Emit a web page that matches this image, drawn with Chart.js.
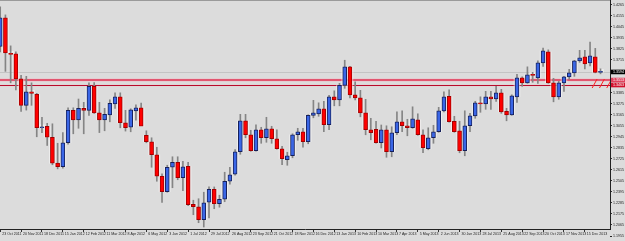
<!DOCTYPE html>
<html>
<head>
<meta charset="utf-8">
<title>EURUSD W1</title>
<script src="https://cdn.jsdelivr.net/npm/chart.js@4.4.0/dist/chart.umd.min.js"></script>
<style>
  html, body { margin: 0; padding: 0; background: #dcdcdc; }
  #box { width: 625px; height: 241px; }
</style>
</head>
<body>
<div id="box"><canvas id="weekChart" width="625" height="241"></canvas></div>
<script>
// weekly candles, first one is the week of 23 Oct 2011, one label every 4 weeks
const dateLabels = ['23 Oct 2011', '20 Nov 2011', '18 Dec 2011', '15 Jan 2012', '12 Feb 2012', '11 Mar 2012',
  '8 Apr 2012', '6 May 2012', '3 Jun 2012', '1 Jul 2012', '29 Jul 2012', '26 Aug 2012', '23 Sep 2012',
  '21 Oct 2012', '18 Nov 2012', '16 Dec 2012', '13 Jan 2013', '10 Feb 2013', '10 Mar 2013', '7 Apr 2013',
  '5 May 2013', '2 Jun 2013', '30 Jun 2013', '28 Jul 2013', '25 Aug 2013', '22 Sep 2013', '20 Oct 2013',
  '17 Nov 2013', '15 Dec 2013'];
const labelEvery = 4;

const opens = [1.3850, 1.4135, 1.3780, 1.3775, 1.3525, 1.3260, 1.3395, 1.3370, 1.3035, 1.3050,
  1.2940, 1.2683, 1.2645, 1.2885, 1.3210, 1.3115, 1.3230, 1.3210, 1.3450, 1.3185,
  1.3115, 1.3165, 1.3275, 1.3345, 1.3085, 1.3040, 1.3205, 1.3235, 1.2960, 1.2895,
  1.2765, 1.2550, 1.2395, 1.2640, 1.2690, 1.2535, 1.2650, 1.2270, 1.2245, 1.2115,
  1.2290, 1.2420, 1.2275, 1.2320, 1.2500, 1.2570, 1.2795, 1.3105, 1.2965, 1.2805,
  1.3015, 1.2935, 1.3025, 1.2925, 1.2825, 1.2715, 1.2755, 1.2965, 1.2995, 1.2895,
  1.3160, 1.3175, 1.3225, 1.3065, 1.3345, 1.3315, 1.3460, 1.3645, 1.3365, 1.3335,
  1.3185, 1.3015, 1.3020, 1.2885, 1.3015, 1.2795, 1.2985, 1.3095, 1.3055, 1.3035,
  1.3115, 1.2965, 1.2825, 1.2935, 1.2995, 1.3205, 1.3350, 1.3100, 1.3005, 1.2805,
  1.3055, 1.3155, 1.3285, 1.3275, 1.3345, 1.3325, 1.3385, 1.3200, 1.3165, 1.3345,
  1.3535, 1.3485, 1.3565, 1.3535, 1.3685, 1.3795, 1.3485, 1.3345, 1.3485, 1.3545,
  1.3585, 1.3705, 1.3745, 1.3685, 1.3745, 1.3590];
const highs = [1.4245, 1.4165, 1.3855, 1.3795, 1.3560, 1.3550, 1.3485, 1.3380, 1.3140, 1.3080,
  1.3075, 1.2880, 1.2987, 1.3235, 1.3235, 1.3323, 1.3290, 1.3486, 1.3487, 1.3290,
  1.3230, 1.3315, 1.3385, 1.3385, 1.3210, 1.3225, 1.3265, 1.3283, 1.3005, 1.2935,
  1.2840, 1.2575, 1.2660, 1.2745, 1.2745, 1.2700, 1.2690, 1.2310, 1.2325, 1.2390,
  1.2445, 1.2443, 1.2360, 1.2590, 1.2640, 1.2817, 1.3170, 1.3170, 1.3010, 1.3065,
  1.3040, 1.3140, 1.3050, 1.3015, 1.2850, 1.2790, 1.2975, 1.3030, 1.3030, 1.3165,
  1.3310, 1.3285, 1.3300, 1.3360, 1.3405, 1.3480, 1.3711, 1.3650, 1.3495, 1.3410,
  1.3320, 1.3130, 1.3100, 1.3063, 1.3055, 1.3045, 1.3195, 1.3205, 1.3120, 1.3245,
  1.3175, 1.3015, 1.3035, 1.3060, 1.3240, 1.3395, 1.3415, 1.3150, 1.3100, 1.3205,
  1.3180, 1.3300, 1.3345, 1.3400, 1.3400, 1.3450, 1.3420, 1.3230, 1.3365, 1.3570,
  1.3545, 1.3645, 1.3590, 1.3705, 1.3832, 1.3815, 1.3530, 1.3500, 1.3550, 1.3620,
  1.3710, 1.3810, 1.3811, 1.3893, 1.3830, 1.3625];
const lows = [1.3795, 1.3600, 1.3485, 1.3415, 1.3200, 1.3212, 1.3260, 1.2945, 1.2985, 1.2858,
  1.2665, 1.2624, 1.2630, 1.2870, 1.2975, 1.3030, 1.2975, 1.3160, 1.3180, 1.2987,
  1.3005, 1.3095, 1.3230, 1.3035, 1.3002, 1.2995, 1.3110, 1.3060, 1.2885, 1.2640,
  1.2500, 1.2288, 1.2390, 1.2435, 1.2515, 1.2405, 1.2255, 1.2165, 1.2085, 1.2042,
  1.2133, 1.2225, 1.2240, 1.2295, 1.2470, 1.2560, 1.2770, 1.2935, 1.2800, 1.2800,
  1.2880, 1.2890, 1.2880, 1.2820, 1.2665, 1.2660, 1.2735, 1.2910, 1.2840, 1.2875,
  1.3135, 1.3150, 1.2995, 1.3015, 1.3255, 1.3255, 1.3430, 1.3335, 1.3315, 1.3145,
  1.2965, 1.2915, 1.2880, 1.2833, 1.2740, 1.2745, 1.2965, 1.2995, 1.2955, 1.3030,
  1.2960, 1.2785, 1.2815, 1.2880, 1.2990, 1.3195, 1.3090, 1.2990, 1.2785, 1.2755,
  1.2995, 1.3130, 1.3190, 1.3220, 1.3220, 1.3300, 1.3180, 1.3105, 1.3160, 1.3290,
  1.3450, 1.3480, 1.3490, 1.3480, 1.3650, 1.3480, 1.3295, 1.3320, 1.3400, 1.3520,
  1.3550, 1.3690, 1.3625, 1.3655, 1.3585, 1.3575];
const closes = [1.4135, 1.3785, 1.3770, 1.3525, 1.3260, 1.3395, 1.3380, 1.3035, 1.3045, 1.2940,
  1.2680, 1.2645, 1.2885, 1.3210, 1.3115, 1.3230, 1.3210, 1.3450, 1.3185, 1.3115,
  1.3170, 1.3280, 1.3345, 1.3085, 1.3035, 1.3215, 1.3235, 1.3050, 1.2895, 1.2765,
  1.2550, 1.2395, 1.2640, 1.2690, 1.2535, 1.2645, 1.2265, 1.2245, 1.2115, 1.2285,
  1.2420, 1.2275, 1.2320, 1.2500, 1.2565, 1.2795, 1.3105, 1.2965, 1.2805, 1.3015,
  1.2935, 1.3025, 1.2925, 1.2825, 1.2725, 1.2755, 1.2965, 1.2995, 1.2895, 1.3160,
  1.3185, 1.3225, 1.3065, 1.3345, 1.3315, 1.3460, 1.3645, 1.3365, 1.3335, 1.3185,
  1.3015, 1.2985, 1.2885, 1.3015, 1.2795, 1.2985, 1.3095, 1.3055, 1.3035, 1.3125,
  1.2965, 1.2835, 1.2935, 1.2995, 1.3205, 1.3345, 1.3095, 1.2995, 1.2805, 1.3055,
  1.3155, 1.3285, 1.3275, 1.3345, 1.3325, 1.3385, 1.3195, 1.3165, 1.3355, 1.3535,
  1.3485, 1.3565, 1.3560, 1.3685, 1.3805, 1.3485, 1.3345, 1.3485, 1.3545, 1.3585,
  1.3705, 1.3735, 1.3675, 1.3755, 1.3590, 1.3594];

// price scale labels
const priceTicks = [1.4265, 1.4155, 1.4045, 1.3935, 1.3825, 1.3715, 1.3605, 1.3495, 1.3385, 1.3275,
  1.3165, 1.3055, 1.2945, 1.2835, 1.2725, 1.2615, 1.2505, 1.2395, 1.2285, 1.2175, 1.2065, 1.1955];
// horizontal lines drawn on the chart + current bid
const levels = [1.3513, 1.3463];
const lastPrice = 1.3594;
// the three little red slashes near the right edge (week index where each one starts)
const slashStarts = [113.4, 114.8, 116.2];
const slashLow = 1.3433, slashHigh = 1.3523;

const yMin = 1.2022, yMax = 1.4314;
const xMin = -0.04, xMax = 116.82;
const tinyFont = { family: 'Liberation Sans', size: 3.6 };

const idx = opens.map((v, i) => i);
const up = idx.map(i => closes[i] >= opens[i]);

const mtDecor = {
  id: 'mtDecor',
  beforeDraw(chart) {
    const c = chart.ctx;
    c.save();
    c.fillStyle = '#dcdcdc';
    c.fillRect(0, 0, chart.width, chart.height);
    c.restore();
  },
  beforeDatasetsDraw(chart) {
    const c = chart.ctx, a = chart.chartArea, y = chart.scales.y;
    const hline = (py, col, w) => {
      c.strokeStyle = col; c.lineWidth = w;
      c.beginPath(); c.moveTo(a.left, py); c.lineTo(a.right, py); c.stroke();
    };
    c.save();
    // bid line
    hline(Math.round(y.getPixelForValue(lastPrice)) + 0.5, '#c4c4c4', 1);
    // pink line
    let py = Math.round(y.getPixelForValue(levels[0]));
    hline(py, '#ecc0c8', 3);
    hline(py, '#e25670', 2);
    // dark red line
    py = Math.round(y.getPixelForValue(levels[1])) + 0.5;
    hline(py, '#e8ccd0', 2);
    hline(py, '#b80c2c', 1);
    c.restore();
  },
  afterDatasetsDraw(chart) {
    const c = chart.ctx, a = chart.chartArea, x = chart.scales.x, y = chart.scales.y;
    c.save();
    c.beginPath(); c.rect(a.left, a.top, a.right - a.left, a.bottom - a.top); c.clip();
    c.strokeStyle = '#ff2020'; c.lineWidth = 1;
    slashStarts.forEach(s => {
      c.beginPath();
      c.moveTo(x.getPixelForValue(s), y.getPixelForValue(slashLow));
      c.lineTo(x.getPixelForValue(s + 0.95), y.getPixelForValue(slashHigh));
      c.stroke();
    });
    c.restore();
  },
  afterDraw(chart) {
    const c = chart.ctx, a = chart.chartArea, y = chart.scales.y;
    c.save();
    // top frame line
    c.strokeStyle = '#9a9a9a'; c.lineWidth = 1;
    c.beginPath(); c.moveTo(0, 0.5); c.lineTo(a.right, 0.5); c.stroke();
    c.font = tinyFont.size + 'px ' + tinyFont.family;
    c.textBaseline = 'middle'; c.textAlign = 'left';
    // price label below the plot area (MT4 puts it beside the date row)
    const lastTick = priceTicks[priceTicks.length - 1];
    const ly = y.getPixelForValue(lastTick);
    c.fillStyle = '#222';
    c.fillRect(a.right, Math.round(ly), 2, 1);
    c.fillText(lastTick.toFixed(4), a.right + 3, ly);
    // marker boxes on the price scale
    const box = (val, bg) => {
      const py = y.getPixelForValue(val);
      c.fillStyle = bg;
      c.fillRect(a.right + 1, py - 2.3, chart.width - a.right - 1, 4.6);
      c.fillStyle = '#ffffff';
      c.fillText(val.toFixed(4), a.right + 3, py);
    };
    box(levels[0], '#e0405c');
    box(levels[1], '#d0102c');
    box(lastPrice, '#000000');
    c.restore();
  }
};

const ctx = document.getElementById('weekChart').getContext('2d');
const weekChart = new Chart(ctx, {
  type: 'bar',
  data: {
    datasets: [
      {
        label: 'halo',
        data: idx.map(i => ({ x: i, y: [opens[i], closes[i]] })),
        backgroundColor: 'rgba(255,255,255,0.5)',
        barThickness: 6,
        minBarLength: 3,
        grouped: false,
        order: 3
      },
      {
        label: 'wicks',
        data: idx.map(i => ({ x: i, y: [lows[i], highs[i]] })),
        backgroundColor: '#858585',
        barThickness: 1,
        grouped: false,
        order: 2
      },
      {
        label: 'bodies',
        data: idx.map(i => ({ x: i, y: [opens[i], closes[i]] })),
        backgroundColor: up.map(u => u ? '#3a66e6' : '#ff0000'),
        borderColor: up.map(u => u ? '#16205a' : '#a00000'),
        borderWidth: 1,
        borderSkipped: false,
        barThickness: 4,
        minBarLength: 1,
        grouped: false,
        order: 1
      }
    ]
  },
  options: {
    responsive: false,
    animation: false,
    devicePixelRatio: 1,
    layout: { padding: 0 },
    plugins: { legend: { display: false }, tooltip: { enabled: false } },
    scales: {
      x: {
        type: 'linear',
        min: xMin,
        max: xMax,
        offset: false,
        afterFit(s) { s.height = 12; s.paddingLeft = 0; s.paddingRight = 0; },
        afterBuildTicks(s) { s.ticks = dateLabels.map((t, i) => ({ value: i * labelEvery })); },
        ticks: {
          autoSkip: false,
          maxRotation: 0,
          align: 'start',
          labelOffset: 2,
          padding: 0,
          font: tinyFont,
          color: '#222',
          callback: (v, i) => dateLabels[i]
        },
        grid: { drawOnChartArea: false, offset: false, tickLength: 3, color: '#333' },
        border: { color: '#222' }
      },
      y: {
        position: 'right',
        min: yMin,
        max: yMax,
        afterFit(s) { s.width = 15; s.paddingTop = 0; s.paddingBottom = 0; },
        afterBuildTicks(s) {
          s.ticks = priceTicks
            .filter(v => v >= s.min && v <= s.max)
            .filter(v => Math.abs(v - lastPrice) > 0.005 && levels.every(l => Math.abs(v - l) > 0.005))
            .map(v => ({ value: v }));
        },
        ticks: {
          autoSkip: false,
          padding: 1,
          font: tinyFont,
          color: '#222',
          callback: v => v.toFixed(4)
        },
        grid: { drawOnChartArea: false, tickLength: 2, color: '#333' },
        border: { color: '#222' }
      }
    }
  },
  plugins: [mtDecor]
});
</script>
</body>
</html>
